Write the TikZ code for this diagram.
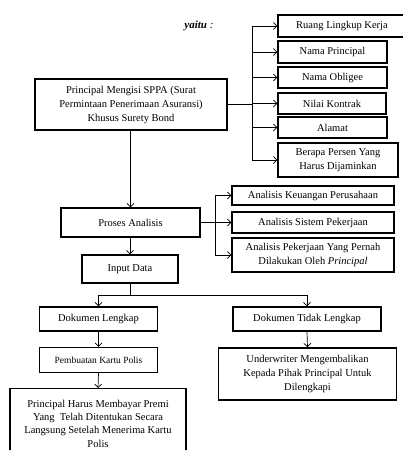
\documentclass[tikz,border=0pt]{standalone}
\usepackage{fontspec}
\setmainfont{Liberation Serif}
\usetikzlibrary{arrows.meta}
\begin{document}
\begin{tikzpicture}[x=1pt,y=-1pt,
  box/.style={draw, line width=1.4pt, inner sep=1pt, align=center,
    font=\fontsize{10.5}{14}\selectfont},
  con/.style={line width=0.7pt},
  arr/.style={con, -{Straight Barb[length=3.5pt,width=7pt]}}]
\useasboundingbox (0,0) rectangle (403,450);
\node[box, minimum width=192pt, minimum height=51pt] (main) at (131,104.5)
  {Principal Mengisi SPPA (Surat\\ Permintaan Penerimaan Asuransi)\\ Khusus Surety Bond};
\node[font=\fontsize{11}{12}\selectfont] (yaitu) at (199,26) {\textit{\textbf{yaitu} :}};
\node[box, minimum width=128pt, minimum height=22pt] (r1) at (342,26) {Ruang Lingkup Kerja};
\node[box, minimum width=109pt, minimum height=22pt] (r2) at (332.5,52) {Nama Principal};
\node[box, minimum width=109pt, minimum height=21pt] (r3) at (332.5,77.5) {Nama Obligee};
\node[box, minimum width=108pt, minimum height=21pt] (r4) at (332,103.5) {Nilai Kontrak};
\node[box, minimum width=109pt, minimum height=21pt] (r5) at (332.5,127.5) {Alamat};
\node[box, minimum width=120pt, minimum height=34pt] (r6) at (338,160) {Berapa Persen Yang\\ Harus Dijaminkan};
\node[box, minimum width=139pt, minimum height=29pt] (proses) at (130.5,222.5) {Proses Analisis};
\node[box, minimum width=162pt, minimum height=19pt] (a1) at (313,195.5) {Analisis Keuangan Perusahaan};
\node[box, minimum width=162pt, minimum height=21pt] (a2) at (313,222.5) {Analisis Sistem Pekerjaan};
\node[box, minimum width=162pt, minimum height=34pt] (a3) at (313,255) {Analisis Pekerjaan Yang Pernah\\ Dilakukan Oleh \textit{Principal}};
\node[box, minimum width=96pt, minimum height=28pt] (input) at (130,269) {Input Data};
\node[box, minimum width=118pt, minimum height=24pt] (dl) at (98.5,319) {Dokumen Lengkap};
\node[box, minimum width=148pt, minimum height=24pt] (dtl) at (307,319) {Dokumen Tidak Lengkap};
\node[box, minimum width=118pt, minimum height=25pt, font=\fontsize{9.5}{12}\selectfont] (pk) at (98.5,360) {Pembuatan Kartu Polis};
\node[box, minimum width=176pt, minimum height=70pt, anchor=north, font=\fontsize{10.5}{13.3}\selectfont] (ph) at (98,388)
  {Principal Harus Membayar Premi\\ Yang\ \ Telah Ditentukan Secara\\ Langsung Setelah Menerima Kartu\\ Polis};
\node[box, minimum width=178pt, minimum height=52pt] (uw) at (307.5,374) {Underwriter Mengembalikan\\ Kepada Pihak Principal Untuk\\ Dilengkapi};
% right branch
\coordinate (bx) at (252,0);
\draw[con] (main.east) -- (main.east -| bx);
\draw[con] (bx |- r1) -- (bx |- r6);
\foreach \n in {r1,r2,r3,r4,r5,r6} \draw[arr] (bx |- \n) -- (\n);
% main down
\draw[arr] (main.south -| proses.north) -- (proses.north);
% analysis branch
\coordinate (ax) at (215,0);
\draw[arr] (proses.east) -- (a2.west);
\draw[con] (ax |- a1) -- (ax |- a3);
\draw[arr] (ax |- a1) -- (a1);
\draw[arr] (ax |- a3) -- (a3);
\draw[arr] (proses.south -| input.north) -- (input.north);
% split
\coordinate (sy) at (0,295);
\draw[con] (input.south) -- (input.south |- sy);
\draw[con] (dl.north |- sy) -- (dtl.north |- sy);
\draw[arr] (dl.north |- sy) -- (dl.north);
\draw[arr] (dtl.north |- sy) -- (dtl.north);
\draw[arr] (dl.south) -- (pk.north);
\draw[arr] (pk.south) -- (ph.north);
\draw[arr] (dtl.south) -- (uw.north);
\end{tikzpicture}
\end{document}
